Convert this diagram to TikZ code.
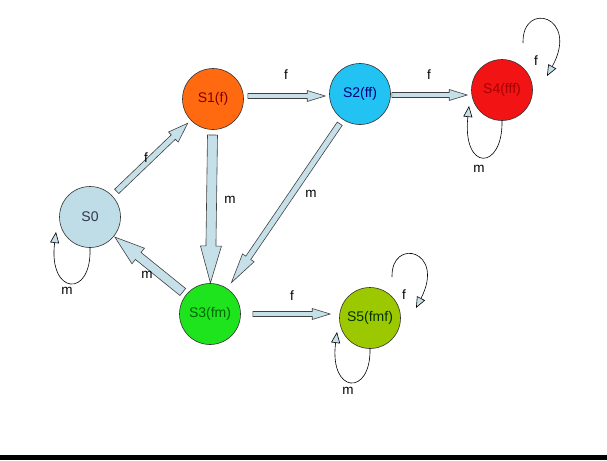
\documentclass[tikz,border=0pt]{standalone}
\usepackage{fontspec}
\setmainfont{Liberation Sans}
\usetikzlibrary{calc,arrows.meta}

\definecolor{arrowfill}{HTML}{C5E0E8}
\definecolor{zerofill}{HTML}{BFDDE6}
\definecolor{onefill}{HTML}{FF6A10}
\definecolor{twofill}{HTML}{22C2F2}
\definecolor{threefill}{HTML}{1EE41E}
\definecolor{fourfill}{HTML}{F21414}
\definecolor{fivefill}{HTML}{9CC800}

\tikzset{
  state/.style={circle, minimum size=61pt, inner sep=0pt, draw=black!80, line width=0.6pt,
    font=\fontsize{14}{16}\selectfont},
  lab/.style={font=\fontsize{13.5}{15}\selectfont, inner sep=1pt},
  flowline/.style={draw=black!75, line width=0.6pt, fill=arrowfill, line join=miter},
  loopline/.style={draw=black, line width=0.6pt, -{Triangle[open, fill=arrowfill, length=11pt, width=9pt]}}
}

% block arrow: start, end, shaft half width, head half width, head length
\newcommand{\flow}[5]{%
  \path #1 coordinate (fs) #2 coordinate (fe) ($(fe)!#5!(fs)$) coordinate (fh);
  \draw[flowline] ($(fs)!#3!90:(fe)$) -- ($(fh)!#3!90:(fe)$) -- ($(fh)!#4!90:(fe)$) -- (fe)
        -- ($(fh)!#4!-90:(fe)$) -- ($(fh)!#3!-90:(fe)$) -- ($(fs)!#3!-90:(fe)$) -- cycle;
}

\begin{document}
\begin{tikzpicture}[x=1pt, y=-1pt]
\useasboundingbox (0,0) rectangle (607,460);
\fill[black] (0,455) rectangle (607,460);

\node [state, fill=zerofill, text=black!80!blue!60!gray] (S0) at (90,217) {S0};
\node [state, fill=onefill, text=red!50!black] (S1) at (213,99) {S1(f)};
\node [state, fill=twofill, text=blue!50!black] (S2) at (360,94) {S2(ff)};
\node [state, fill=threefill, text=green!40!black] (S3) at (210,314) {S3(fm)};
\node [state, fill=fourfill, text=red!65!black] (S4) at (502,90) {S4(fff)};
\node [state, fill=fivefill, text=black!80!green] (S5) at (370,318) {S5(fmf)};

\flow{($(S0)!37pt!(S1)$)}{($(S1)!35pt!(S0)$)}{3pt}{7pt}{20pt}
\flow{($(S1.east)+(4,-3)$)}{($(S2.west |- fs)+(-4,0)$)}{2.5pt}{5.5pt}{18pt}
\flow{($(S2.east)+(1,1)$)}{($(S4.west |- fs)+(-4,0)$)}{2.5pt}{5.5pt}{18pt}
\flow{($(S1)!36pt!(S3)$)}{($(S3)!31pt!(S1)$)}{5pt}{10.5pt}{37pt}
\flow{($(S2)!36pt!(S3)$)}{($(S3)!38pt!(S2)$)}{3pt}{7pt}{30pt}
\flow{($(S3)!35pt!(S0)$)}{($(S0)!32pt!(S3)$)}{4.5pt}{10pt}{30pt}
\flow{($(S3.east)+(12,0)$)}{($(S5.west |- fs)+(-9,0)$)}{2.5pt}{5.5pt}{18pt}

\draw[loopline] (S0.south) .. controls +(2,51) and +(-8,63) .. ($(S0)+(-34,15)$);
\draw[loopline] (S4.south) .. controls +(1,50) and +(-7,66) .. ($(S4)+(-33,16)$);
\draw[loopline] (S5.south) .. controls +(1,48) and +(-8,62) .. ($(S5)+(-33,14)$);
\draw[loopline] ($(S4)+(21,-47)$) .. controls +(-1,-43) and +(33,-60) .. ($(S4)+(45,-14)$);
\draw[loopline] ($(S5)+(22,-41)$) .. controls +(-1,-40) and +(30,-58) .. ($(S5)+(46,-10)$);

\node [lab] (l01) at (146,158) {f};
\node [lab] (l12) at (286,75) {f};
\node [lab] (l24) at (429,75) {f};
\node [lab] (l13) at (230,200) {m};
\node [lab] (l23) at (311,194) {m};
\node [lab] (l30) at (147,275) {m};
\node [lab] (l35) at (292,296) {f};
\node [lab] (l00) at (67,291) {m};
\node [lab] (l44) at (479,169) {m};
\node [lab] (l55) at (348,391) {m};
\node [lab] (l44f) at (536,61) {f};
\node [lab] (l55f) at (404,295) {f};
\end{tikzpicture}
\end{document}
